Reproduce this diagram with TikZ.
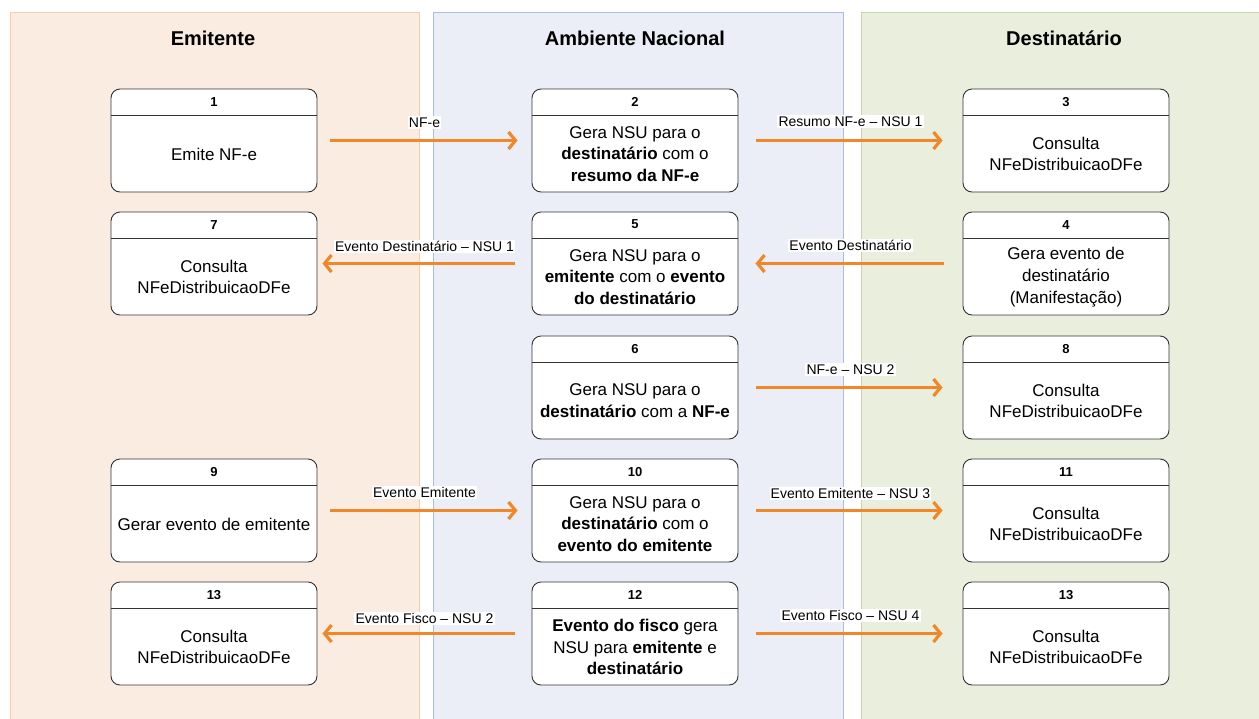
\documentclass[tikz,border=0pt]{standalone}
\usepackage{fontspec}
\setmainfont{Liberation Sans}
\usetikzlibrary{arrows.meta,calc}
\definecolor{laneA}{HTML}{FBECE1}
\definecolor{laneAb}{HTML}{F8CDAE}
\definecolor{laneB}{HTML}{EBEEF6}
\definecolor{laneBb}{HTML}{A9BEDA}
\definecolor{laneC}{HTML}{EAEEDD}
\definecolor{laneCb}{HTML}{C6D6A8}
\definecolor{arrcol}{HTML}{F0882A}
\definecolor{boxline}{HTML}{333333}
\tikzset{
  lane/.style={line width=0.8pt},
  lanetitle/.style={font=\fontsize{20}{24}\selectfont\bfseries},
  procbox/.style={draw=boxline, fill=white, line width=0.9pt, rounded corners=9pt,
    minimum width=206pt, minimum height=103pt, inner sep=0pt},
  numlbl/.style={font=\fontsize{13}{14}\selectfont\bfseries, inner sep=0pt},
  bodytxt/.style={font=\fontsize{17}{21.8}\selectfont, align=center, inner sep=0pt},
  flow/.style={draw=arrcol, line width=3.2pt, -{Straight Barb[length=7pt,width=17pt]}},
  rflow/.style={flow, shorten <=13pt, shorten >=14pt},
  rflowb/.style={flow, shorten <=18pt, shorten >=20pt},
  lflow/.style={flow, shorten <=17pt, shorten >=5pt},
  flowlbl/.style={fill=white, inner sep=1.2pt, font=\fontsize{14}{16}\selectfont, text=black}
}
\newcommand\procnode[5]{%
  \node[procbox] (#1) at (#2,#3+51.5) {};
  \draw[boxline, line width=0.9pt] ($(#1.north west)+(0,26.5)$) -- ($(#1.north east)+(0,26.5)$);
  \node[numlbl] (#1num) at ($(#1.north)+(0,13)$) {#4};
  \node[bodytxt] (#1txt) at ($(#1.south)+(0,-38.5)$) {#5};
}
\begin{document}
\begin{tikzpicture}[x=1pt,y=-1pt]
\useasboundingbox (0,0) rectangle (1259,718);
\fill[white] (0,0) rectangle (1259,718);
% lanes
\draw[lane, fill=laneA, draw=laneAb] (10,12) rectangle (419,730);
\draw[lane, fill=laneB, draw=laneBb] (433,12) rectangle (843,730);
\draw[lane, fill=laneC, draw=laneCb] (861,12) rectangle (1275,730);
\node[lanetitle] (t1) at (213,38) {Emitente};
\node[lanetitle] (t2) at (635,38) {Ambiente Nacional};
\node[lanetitle] (t3) at (1064,38) {Destinatário};
% boxes
\procnode{b1}{214}{89}{1}{Emite NF-e}
\procnode{b2}{635}{89}{2}{Gera NSU para o\\\textbf{destinatário} com o\\\textbf{resumo da NF-e}}
\procnode{b3}{1066}{89}{3}{Consulta\\NFeDistribuicaoDFe}
\procnode{b7}{214}{212}{7}{Consulta\\NFeDistribuicaoDFe}
\procnode{b5}{635}{212}{5}{Gera NSU para o\\\textbf{emitente} com o \textbf{evento}\\\textbf{do destinatário}}
\procnode{b4}{1066}{212}{4}{Gera evento de\\destinatário\\(Manifestação)}
\procnode{b6}{635}{336}{6}{Gera NSU para o\\\textbf{destinatário} com a \textbf{NF-e}}
\procnode{b8}{1066}{336}{8}{Consulta\\NFeDistribuicaoDFe}
\procnode{b9}{214}{459}{9}{Gerar evento de emitente}
\procnode{b10}{635}{459}{10}{Gera NSU para o\\\textbf{destinatário} com o\\\textbf{evento do emitente}}
\procnode{b11}{1066}{459}{11}{Consulta\\NFeDistribuicaoDFe}
\procnode{b13a}{214}{582}{13}{Consulta\\NFeDistribuicaoDFe}
\procnode{b12}{635}{582}{12}{\textbf{Evento do fisco} gera\\NSU para \textbf{emitente} e\\\textbf{destinatário}}
\procnode{b13b}{1066}{582}{13}{Consulta\\NFeDistribuicaoDFe}
% flows
\draw[rflow] (b1) -- node[flowlbl, yshift=18pt] (l1) {NF-e} (b2);
\draw[rflowb] (b2) -- node[flowlbl, yshift=19pt] (l2) {Resumo NF-e – NSU 1} (b3);
\draw[lflow] (b5) -- node[flowlbl, yshift=17pt] (l3) {Evento Destinatário – NSU 1} (b7);
\draw[lflow, shorten <=19pt, shorten >=17pt] (b4) -- node[flowlbl, yshift=18pt] (l4) {Evento Destinatário} (b5);
\draw[rflowb] (b6) -- node[flowlbl, yshift=18pt] (l5) {NF-e – NSU 2} (b8);
\draw[rflow] (b9) -- node[flowlbl, yshift=18pt] (l6) {Evento Emitente} (b10);
\draw[rflowb] (b10) -- node[flowlbl, yshift=17pt] (l7) {Evento Emitente – NSU 3} (b11);
\draw[lflow] (b12) -- node[flowlbl, yshift=15pt] (l8) {Evento Fisco – NSU 2} (b13a);
\draw[rflowb] (b12) -- node[flowlbl, yshift=18pt] (l9) {Evento Fisco – NSU 4} (b13b);
\end{tikzpicture}
\end{document}
